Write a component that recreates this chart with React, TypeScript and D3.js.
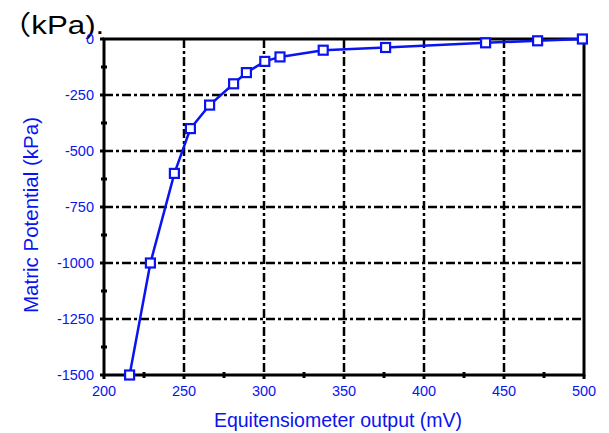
import { useRef, useEffect } from 'react';
import * as d3 from 'd3';

// sensor output (mV) vs matric potential (kPa)
const outputMv = [216, 229, 244, 254, 266, 281, 289, 300.5, 310, 337, 376, 438.5, 471, 499];
const potentialKpa = [-1500, -1000, -600, -400, -295, -200, -150, -100, -80, -50, -38, -17, -8, 0];

const xTicks = [200, 250, 300, 350, 400, 450, 500];
const yTicks = [0, -250, -500, -750, -1000, -1250, -1500];
const xMinor = [225, 275, 325, 375, 425, 475];
const yMinor = [-125, -375, -625, -875, -1125, -1375];

const BLUE = '#0a14f0';
const FONT = 'Liberation Sans, Arial, sans-serif';

export default function App() {
    const svgRef = useRef<SVGSVGElement>(null);

    const draw = () => {
        const svg = d3.select(svgRef.current);
        svg.selectAll('*').remove();
        const margin = { top: 39, right: 25, bottom: 58, left: 104 };
        const width = 609 - margin.left - margin.right;
        const height = 433 - margin.top - margin.bottom;

        // title fragment at the top-left (glyphs are wide in the original)
        const title = svg.append('text')
            .attr('transform', 'translate(0, 34) scale(1.18, 1)')
            .style('font-size', '26.5px')
            .style('fill', '#000');
        title.append('tspan')
            .style('font-family', 'Noto Sans CJK SC, sans-serif')
            .text('（');
        title.append('tspan')
            .style('font-family', FONT)
            .text('kPa).');

        const g = svg.append('g').attr('transform', `translate(${margin.left}, ${margin.top})`);

        const x = d3.scaleLinear().domain([200, 500]).range([0, width]);
        const y = d3.scaleLinear().domain([-1500, 0]).range([height, 0]);

        // grid (dash-dot)
        g.selectAll('.gx')
            .data(xTicks.slice(1, -1))
            .enter()
            .append('line')
            .attr('x1', d => x(d)).attr('x2', d => x(d))
            .attr('y1', 0).attr('y2', height)
            .attr('stroke', '#000')
            .attr('stroke-width', 2.5)
            .attr('stroke-dasharray', '9,3,3,3');
        g.selectAll('.gy')
            .data(yTicks.slice(1, -1))
            .enter()
            .append('line')
            .attr('x1', 0).attr('x2', width)
            .attr('y1', d => y(d)).attr('y2', d => y(d))
            .attr('stroke', '#000')
            .attr('stroke-width', 2.5)
            .attr('stroke-dasharray', '9,3,3,3');

        // frame
        g.append('rect')
            .attr('x', 0).attr('y', 0)
            .attr('width', width).attr('height', height)
            .attr('fill', 'none')
            .attr('stroke', '#000')
            .attr('stroke-width', 3);

        // major ticks (outward)
        g.selectAll('.tx')
            .data(xTicks)
            .enter()
            .append('line')
            .attr('x1', d => x(d)).attr('x2', d => x(d))
            .attr('y1', height).attr('y2', height + 4)
            .attr('stroke', '#000')
            .attr('stroke-width', 3);
        g.selectAll('.ty')
            .data(yTicks)
            .enter()
            .append('line')
            .attr('x1', -4).attr('x2', 0)
            .attr('y1', d => y(d)).attr('y2', d => y(d))
            .attr('stroke', '#000')
            .attr('stroke-width', 3);

        // minor ticks
        g.selectAll('.mx')
            .data(xMinor)
            .enter()
            .append('line')
            .attr('x1', d => x(d)).attr('x2', d => x(d))
            .attr('y1', height - 3).attr('y2', height + 3)
            .attr('stroke', '#000')
            .attr('stroke-width', 3);
        g.selectAll('.my')
            .data(yMinor)
            .enter()
            .append('line')
            .attr('x1', -3).attr('x2', 3)
            .attr('y1', d => y(d)).attr('y2', d => y(d))
            .attr('stroke', '#000')
            .attr('stroke-width', 3);

        // tick labels
        g.selectAll('.xl')
            .data(xTicks)
            .enter()
            .append('text')
            .attr('x', d => x(d))
            .attr('y', height + 21)
            .attr('text-anchor', 'middle')
            .style('font-family', FONT)
            .style('font-size', '14.5px')
            .style('fill', BLUE)
            .text(d => d);
        g.selectAll('.yl')
            .data(yTicks)
            .enter()
            .append('text')
            .attr('x', -10)
            .attr('y', d => y(d) + 5)
            .attr('text-anchor', 'end')
            .style('font-family', FONT)
            .style('font-size', '14.5px')
            .style('fill', BLUE)
            .text(d => d);

        // axis titles
        g.append('text')
            .attr('x', width / 2 - 6)
            .attr('y', height + 52)
            .attr('text-anchor', 'middle')
            .style('font-family', FONT)
            .style('font-size', '19.5px')
            .style('fill', BLUE)
            .text('Equitensiometer output (mV)');
        g.append('text')
            .attr('transform', `translate(${-66}, ${height / 2 + 8}) rotate(-90)`)
            .attr('text-anchor', 'middle')
            .style('font-family', FONT)
            .style('font-size', '20.5px')
            .style('fill', BLUE)
            .text('Matric Potential (kPa)');

        const data = outputMv.map((v, i) => ({ mv: v, kpa: potentialKpa[i] }));

        const line = d3.line<{ mv: number; kpa: number }>()
            .x(d => x(d.mv))
            .y(d => y(d.kpa));

        g.append('path')
            .datum(data)
            .attr('d', line)
            .attr('fill', 'none')
            .attr('stroke', BLUE)
            .attr('stroke-width', 2.5);

        // square markers
        g.selectAll('.pt')
            .data(data)
            .enter()
            .append('rect')
            .attr('x', d => x(d.mv) - 4.5)
            .attr('y', d => y(d.kpa) - 4.5)
            .attr('width', 9)
            .attr('height', 9)
            .attr('fill', '#fff')
            .attr('stroke', BLUE)
            .attr('stroke-width', 2.2);
    };

    useEffect(() => {
        draw();
    }, []);

    return <svg ref={svgRef} width={609} height={433} style={{ position: 'absolute', left: 0, top: 0, background: '#fff' }}></svg>;
}
